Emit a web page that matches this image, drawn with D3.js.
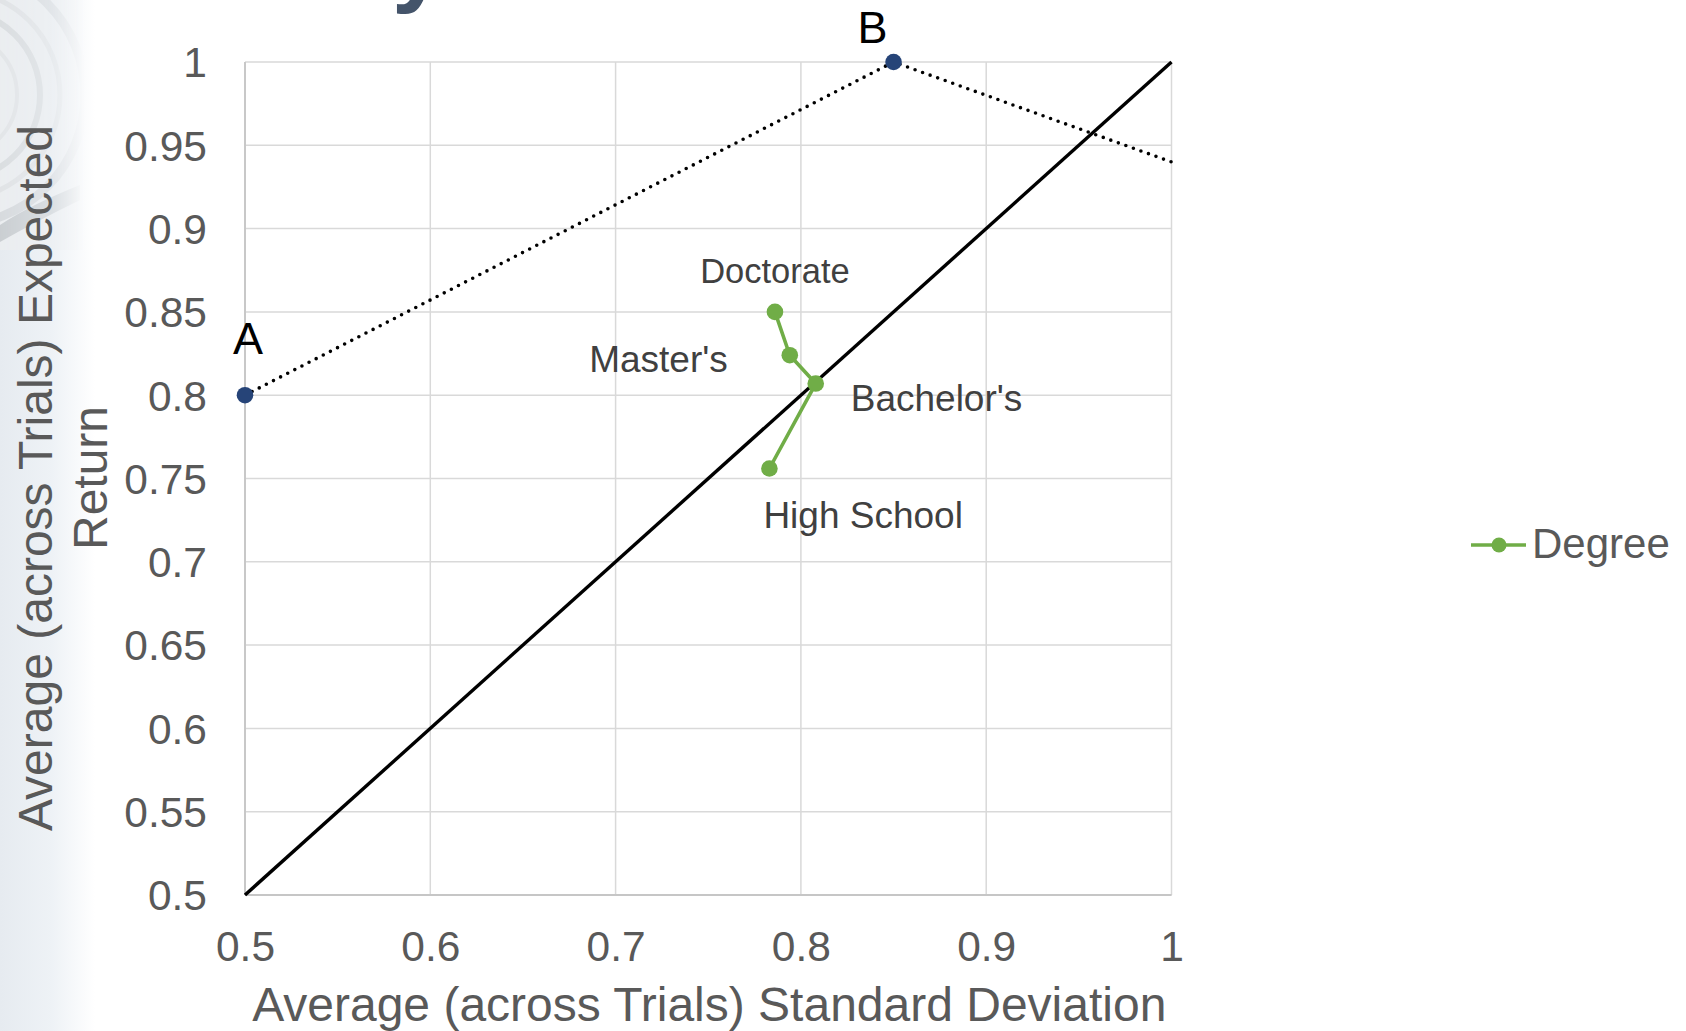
<!DOCTYPE html>
<html>
<head>
<meta charset="utf-8">
<script src="https://cdnjs.cloudflare.com/ajax/libs/d3/7.8.5/d3.min.js"></script>
<style>
  html, body { margin: 0; padding: 0; background: #ffffff; }
  svg { display: block; }
  text { font-family: "Liberation Sans", Arial, sans-serif; }
</style>
</head>
<body>
<svg id="chart" width="1686" height="1031"></svg>
<script>
// Risk/return by education level
const degreeLabels = ["Doctorate", "Master's", "Bachelor's", "High School"];
const degreeSD = [0.786, 0.794, 0.808, 0.783];
const degreeReturn = [0.850, 0.824, 0.807, 0.756];

// Reference portfolios and the dotted frontier through them
const portfolioNames = ["A", "B"];
const portfolioSD = [0.5, 0.85];
const portfolioReturn = [0.8, 1.0];
const frontierSD = [0.5, 0.85, 1.0];
const frontierReturn = [0.8, 1.0, 0.94];

// 45-degree line (return equals risk)
const diagonalSD = [0.5, 1.0];
const diagonalReturn = [0.5, 1.0];

const xTicks = [0.5, 0.6, 0.7, 0.8, 0.9, 1];
const yTicks = [0.5, 0.55, 0.6, 0.65, 0.7, 0.75, 0.8, 0.85, 0.9, 0.95, 1];
const xTickLabels = ["0.5", "0.6", "0.7", "0.8", "0.9", "1"];
const yTickLabels = ["0.5", "0.55", "0.6", "0.65", "0.7", "0.75", "0.8", "0.85", "0.9", "0.95", "1"];

const svg = d3.select("#chart");
const W = 1686, H = 1031;
const plot = { left: 245, right: 1171.5, top: 62, bottom: 895 };

const x = d3.scaleLinear().domain([0.5, 1]).range([plot.left, plot.right]);
const y = d3.scaleLinear().domain([0.5, 1]).range([plot.bottom, plot.top]);

// ---- slide backdrop: soft tinted strip along the left edge ----
const defs = svg.append("defs");
const edge = defs.append("linearGradient").attr("id", "edgeFade")
  .attr("x1", 0).attr("x2", 1).attr("y1", 0).attr("y2", 0);
edge.append("stop").attr("offset", "0%").attr("stop-color", "#e6ebf0");
edge.append("stop").attr("offset", "55%").attr("stop-color", "#eef2f6");
edge.append("stop").attr("offset", "100%").attr("stop-color", "#ffffff");
svg.append("rect").attr("x", 0).attr("y", 0).attr("width", 95).attr("height", H)
  .attr("fill", "url(#edgeFade)");

const swirlFade = defs.append("linearGradient").attr("id", "swirlFade")
  .attr("x1", 0).attr("x2", 1).attr("y1", 0).attr("y2", 0);
swirlFade.append("stop").attr("offset", "0%").attr("stop-color", "#fff").attr("stop-opacity", 0.8);
swirlFade.append("stop").attr("offset", "60%").attr("stop-color", "#fff").attr("stop-opacity", 0.45);
swirlFade.append("stop").attr("offset", "100%").attr("stop-color", "#fff").attr("stop-opacity", 0);
const swirlMask = defs.append("mask").attr("id", "swirlMask");
swirlMask.append("rect").attr("x", 0).attr("y", 0).attr("width", 85).attr("height", 250)
  .attr("fill", "url(#swirlFade)");
const swirl = svg.append("g").attr("mask", "url(#swirlMask)");
swirl.append("rect").attr("x", 0).attr("y", 0).attr("width", 85).attr("height", 250)
  .attr("fill", "#eceef0");
[[130, 9, "#d3d6d9"], [105, 5, "#dfe1e3"], [85, 6, "#d7dadc"], [62, 4, "#e2e4e6"], [40, 5, "#dadcdf"]]
  .forEach(([r, w, c]) => {
    swirl.append("circle").attr("cx", -45).attr("cy", 95).attr("r", r)
      .attr("fill", "none").attr("stroke", c).attr("stroke-width", w);
  });
swirl.append("path").attr("d", "M0,225 Q30,205 80,185 L80,200 Q35,222 0,242 Z")
  .attr("fill", "#a9adb1").attr("opacity", 0.6);

// descender of the slide heading that sits above the chart
svg.append("text").attr("x", 392).attr("y", -6)
  .attr("font-size", 96).attr("font-weight", "bold").attr("fill", "#44546a")
  .text("y");

// ---- grid ----
const grid = svg.append("g");
grid.selectAll("line.h").data(yTicks).join("line")
  .attr("x1", plot.left).attr("x2", plot.right)
  .attr("y1", d => y(d)).attr("y2", d => y(d))
  .attr("stroke", "#d9d9d9").attr("stroke-width", 1.5);
grid.selectAll("line.v").data(xTicks).join("line")
  .attr("x1", d => x(d)).attr("x2", d => x(d))
  .attr("y1", plot.top).attr("y2", plot.bottom)
  .attr("stroke", "#d9d9d9").attr("stroke-width", 1.5);

// axis lines
svg.append("line").attr("x1", plot.left).attr("x2", plot.left)
  .attr("y1", plot.top).attr("y2", plot.bottom).attr("stroke", "#c6c6c6").attr("stroke-width", 1.8);
svg.append("line").attr("x1", plot.left).attr("x2", plot.right)
  .attr("y1", plot.bottom).attr("y2", plot.bottom).attr("stroke", "#c6c6c6").attr("stroke-width", 1.8);

// ---- axes (tick labels only) ----
const yAxis = d3.axisLeft(y).tickValues(yTicks).tickSize(0).tickPadding(0)
  .tickFormat((d, i) => yTickLabels[i]);
const yAxisG = svg.append("g").attr("transform", `translate(207,0)`).call(yAxis);
yAxisG.select(".domain").remove();
yAxisG.selectAll("text").attr("font-size", 42.5).attr("fill", "#595959")
  .attr("font-family", "Liberation Sans, Arial, sans-serif").attr("dy", "0.35em");

const xAxis = d3.axisBottom(x).tickValues(xTicks).tickSize(0).tickPadding(0)
  .tickFormat((d, i) => xTickLabels[i]);
const xAxisG = svg.append("g").attr("transform", `translate(0,${plot.bottom})`).call(xAxis);
xAxisG.select(".domain").remove();
xAxisG.selectAll("text").attr("font-size", 42.5).attr("fill", "#595959")
  .attr("font-family", "Liberation Sans, Arial, sans-serif").attr("dy", null).attr("y", 66);

// axis titles
svg.append("text").attr("x", (plot.left + plot.right) / 2 + 1).attr("y", 1021)
  .attr("text-anchor", "middle").attr("font-size", 48).attr("fill", "#595959")
  .text("Average (across Trials) Standard Deviation");
const yTitle = svg.append("g").attr("transform", "translate(0,478) rotate(-90)");
yTitle.append("text").attr("x", 0).attr("y", 52).attr("text-anchor", "middle")
  .attr("font-size", 48).attr("fill", "#595959").text("Average (across Trials) Expected");
yTitle.append("text").attr("x", 0).attr("y", 107).attr("text-anchor", "middle")
  .attr("font-size", 48).attr("fill", "#595959").text("Return");

// ---- plot content ----
const line = d3.line().x(d => x(d[0])).y(d => y(d[1]));

svg.append("path")
  .datum(diagonalSD.map((v, i) => [v, diagonalReturn[i]]))
  .attr("d", line).attr("fill", "none").attr("stroke", "#000").attr("stroke-width", 3.4);

svg.append("path")
  .datum(frontierSD.map((v, i) => [v, frontierReturn[i]]))
  .attr("d", line).attr("fill", "none").attr("stroke", "#000")
  .attr("stroke-width", 3.6).attr("stroke-linecap", "round").attr("stroke-dasharray", "0 8");

const portfolios = portfolioNames.map((n, i) => ({ name: n, sd: portfolioSD[i], ret: portfolioReturn[i] }));
svg.selectAll("circle.port").data(portfolios).join("circle")
  .attr("cx", d => x(d.sd)).attr("cy", d => y(d.ret)).attr("r", 8.3)
  .attr("fill", "#264478");
const portOffset = { A: [3, -41], B: [-21, -19] };
svg.selectAll("text.port").data(portfolios).join("text")
  .attr("x", d => x(d.sd) + portOffset[d.name][0])
  .attr("y", d => y(d.ret) + portOffset[d.name][1])
  .attr("text-anchor", "middle").attr("font-size", 45).attr("fill", "#000")
  .text(d => d.name);

// education series
const degrees = degreeLabels.map((n, i) => ({ name: n, sd: degreeSD[i], ret: degreeReturn[i] }));
svg.append("path").datum(degrees.map(d => [d.sd, d.ret]))
  .attr("d", line).attr("fill", "none").attr("stroke", "#70ad47").attr("stroke-width", 3.6)
  .attr("stroke-linejoin", "round");
svg.selectAll("circle.deg").data(degrees).join("circle")
  .attr("cx", d => x(d.sd)).attr("cy", d => y(d.ret)).attr("r", 8.3)
  .attr("fill", "#70ad47");

const degLabelStyle = {
  "Doctorate":   { dx: 0,   dy: -29, anchor: "middle", size: 34.5, font: "Open Sans, sans-serif" },
  "Master's":    { dx: -62, dy: 17,  anchor: "end",    size: 37, font: "Liberation Sans, Arial, sans-serif" },
  "Bachelor's":  { dx: 35,  dy: 27,  anchor: "start",  size: 37, font: "Liberation Sans, Arial, sans-serif" },
  "High School": { dx: -6,  dy: 59,  anchor: "start",  size: 37, font: "Liberation Sans, Arial, sans-serif" }
};
svg.selectAll("text.deg").data(degrees).join("text")
  .attr("x", d => x(d.sd) + degLabelStyle[d.name].dx)
  .attr("y", d => y(d.ret) + degLabelStyle[d.name].dy)
  .attr("text-anchor", d => degLabelStyle[d.name].anchor)
  .attr("font-size", d => degLabelStyle[d.name].size)
  .attr("font-family", d => degLabelStyle[d.name].font)
  .attr("fill", "#404040")
  .text(d => d.name);

// ---- legend ----
const legend = svg.append("g").attr("transform", "translate(1471,545)");
legend.append("line").attr("x1", 0).attr("x2", 55).attr("y1", 0).attr("y2", 0)
  .attr("stroke", "#70ad47").attr("stroke-width", 3.6);
legend.append("circle").attr("cx", 28).attr("cy", 0).attr("r", 7.5).attr("fill", "#70ad47");
legend.append("text").attr("x", 61).attr("y", 13).attr("font-size", 42).attr("fill", "#595959")
  .text("Degree");
</script>
</body>
</html>
